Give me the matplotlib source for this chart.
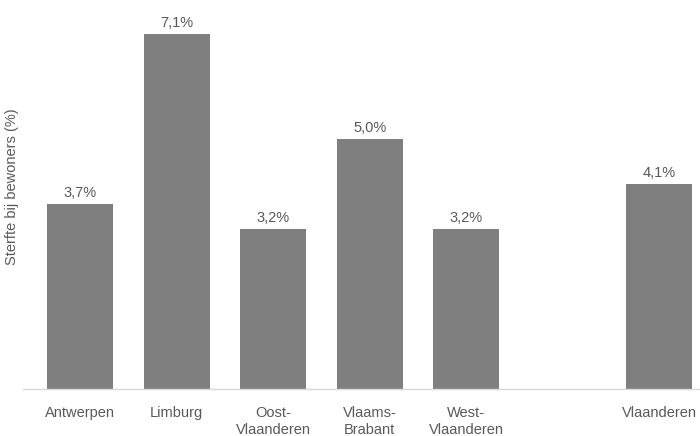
import matplotlib
matplotlib.use("Agg")
import matplotlib.pyplot as plt

categories = ["Antwerpen", "Limburg", "Oost-\nVlaanderen", "Vlaams-\nBrabant", "West-\nVlaanderen", "Vlaanderen"]
positions = [0, 1, 2, 3, 4, 6]
values = [3.7, 7.1, 3.2, 5.0, 3.2, 4.1]
labels = ["3,7%", "7,1%", "3,2%", "5,0%", "3,2%", "4,1%"]

plt.rcParams["font.family"] = ["Liberation Sans", "DejaVu Sans"]
txt = "#595959"

fig = plt.figure(figsize=(7, 4.36), dpi=100)
ax = fig.add_axes([23/700, 47/436, 677/700, 389/436])
ax.bar(positions, values, width=0.684, color="#7f7f7f", zorder=2)
for p, v, l in zip(positions, values, labels):
    ax.text(p, v + 0.09, l, ha="center", va="bottom", fontsize=10.5, color=txt)
ax.set_xlim(-0.59, 6.42)
ax.set_ylim(0, 7.78)
ax.set_xticks(positions)
ax.set_xticklabels(categories, fontsize=10.5, color=txt, linespacing=1.3, va="top")
ax.tick_params(axis="x", length=0, pad=12)
ax.set_yticks([])
for s in ["top", "right", "left"]:
    ax.spines[s].set_visible(False)
ax.spines["bottom"].set_color("#d9d9d9")
ax.spines["bottom"].set_linewidth(1)
fig.text(12/700, 1 - 187/436, "Sterfte bij bewoners (%)", rotation=90, ha="center", va="center",
         fontsize=10.5, color=txt)
fig.savefig("out.png", dpi=100)
